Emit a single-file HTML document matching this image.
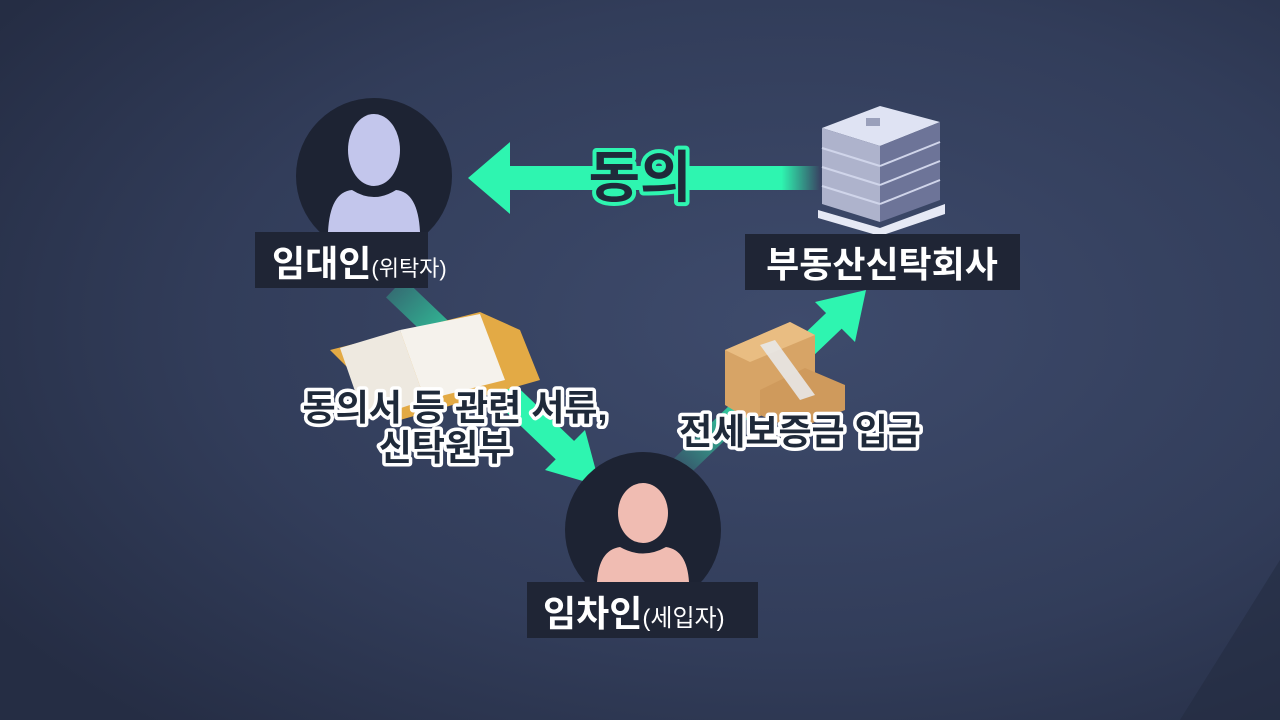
<!DOCTYPE html>
<html><head><meta charset="utf-8"><style>
html,body{margin:0;padding:0;width:1280px;height:720px;overflow:hidden;background:#2f3a56}
svg{display:block}
text{font-family:"Liberation Sans","Noto Sans CJK KR",sans-serif;font-weight:bold}
</style></head><body>
<svg width="1280" height="720" viewBox="0 0 1280 720" xmlns="http://www.w3.org/2000/svg">
<defs>
<radialGradient id="bg" cx="0.62" cy="0.45" r="0.75">
<stop offset="0" stop-color="#3e4b6c"/><stop offset="0.6" stop-color="#323d5a"/><stop offset="1" stop-color="#252d44"/>
</radialGradient>
<linearGradient id="ga" x1="1" y1="0" x2="0" y2="0"><stop offset="0" stop-color="#2ef5b0" stop-opacity="0"/><stop offset="0.12" stop-color="#2ef5b0"/><stop offset="1" stop-color="#2ef5b0"/></linearGradient>
<linearGradient id="gd" x1="0" y1="0" x2="1" y2="1"><stop offset="0" stop-color="#2ef5b0" stop-opacity="0.25"/><stop offset="0.5" stop-color="#2ef5b0"/><stop offset="1" stop-color="#2ef5b0"/></linearGradient>
<linearGradient id="gu" x1="0" y1="1" x2="1" y2="0"><stop offset="0" stop-color="#2ef5b0" stop-opacity="0.1"/><stop offset="0.5" stop-color="#2ef5b0"/><stop offset="1" stop-color="#2ef5b0"/></linearGradient>
</defs>
<rect width="1280" height="720" fill="url(#bg)"/>
<polygon points="1180,720 1280,560 1280,720" fill="#222a3e" opacity="0.5"/>

<!-- top arrow -->
<rect x="500" y="166" width="320" height="24" fill="url(#ga)"/>
<polygon points="468,178 510,142 510,214" fill="#2ef5b0"/>
<text x="640" y="197" font-size="56" font-weight="900" text-anchor="middle" fill="none" stroke="#2ef5b0" stroke-width="8" stroke-linejoin="round">동의</text>
<text x="640" y="197" font-size="56" font-weight="900" text-anchor="middle" fill="#1f2a3a">동의</text>

<!-- diagonal down arrow -->
<line x1="395" y1="288" x2="570" y2="455" stroke="url(#gd)" stroke-width="26"/>
<polygon points="600,486 545,470 585,430" fill="#2ef5b0"/>
<!-- up arrow -->
<line x1="680" y1="468" x2="840" y2="315" stroke="url(#gu)" stroke-width="22"/>
<polygon points="866,290 855,342 815,302" fill="#2ef5b0"/>

<!-- circles -->
<circle cx="374" cy="176" r="78" fill="#1d2333"/>
<ellipse cx="374" cy="150" rx="26" ry="36" fill="#c3c6ec"/>
<path d="M328,232 Q330,192 352,190 Q374,204 396,190 Q418,192 420,232 Z" fill="#c3c6ec"/>
<circle cx="643" cy="530" r="78" fill="#1d2333"/>
<ellipse cx="643" cy="513" rx="25" ry="30" fill="#f0bcb2"/>
<path d="M597,582 Q599,550 620,547 Q643,560 666,547 Q687,550 689,582 Z" fill="#f0bcb2"/>

<!-- building -->
<g>
<polygon points="822,128 880,106 940,122 880,146" fill="#dfe3f3"/>
<polygon points="822,128 880,146 880,222 822,204" fill="#aeb3cc"/>
<polygon points="880,146 940,122 940,200 880,222" fill="#6d7498"/>
<g stroke="#d0d5ea" stroke-width="2">
<line x1="822" y1="148" x2="880" y2="166"/><line x1="822" y1="167" x2="880" y2="185"/><line x1="822" y1="186" x2="880" y2="204"/>
<line x1="880" y1="166" x2="940" y2="142"/><line x1="880" y1="185" x2="940" y2="161"/><line x1="880" y1="204" x2="940" y2="180"/>
</g>
<polygon points="818,210 880,228 945,204 945,214 880,236 818,218" fill="#e6e9f5"/>
<rect x="866" y="118" width="14" height="8" fill="#9aa0bb"/>
</g>

<!-- documents -->
<polygon points="330,350 480,312 520,330 540,380 400,420" fill="#e3aa45"/>
<polygon points="340,348 400,330 425,400 365,420" fill="#eee9e0"/>
<polygon points="400,330 480,314 505,380 425,400" fill="#f5f2ec"/>

<!-- money -->
<g>
<polygon points="725,350 790,322 815,335 815,395 750,420 725,405" fill="#d7a466"/>
<polygon points="760,390 805,368 845,385 845,410 795,430 760,415" fill="#cf9a5c"/>
<polygon points="725,350 790,322 815,335 750,362" fill="#e9bd82"/>
<polygon points="760,345 775,340 815,395 800,400" fill="#e8e8e8" opacity="0.9"/>
</g>

<!-- label boxes -->
<rect x="255" y="232" width="173" height="56" fill="#1f2535"/>
<text x="272" y="276" font-size="36" fill="#fff">임대인<tspan font-size="22" font-weight="normal">(위탁자)</tspan></text>
<rect x="745" y="234" width="275" height="56" fill="#1f2535"/>
<text x="882" y="277" font-size="36" fill="#fff" text-anchor="middle">부동산신탁회사</text>
<rect x="527" y="582" width="231" height="56" fill="#1f2535"/>
<text x="543" y="626" font-size="36" fill="#fff">임차인<tspan font-size="24" font-weight="normal">(세입자)</tspan></text>

<!-- outlined labels -->
<g font-size="36" font-weight="900" text-anchor="middle">
<g fill="none" stroke="#fff" stroke-width="7" stroke-linejoin="round">
<text x="455" y="420">동의서 등 관련 서류,</text>
<text x="445" y="460">신탁원부</text>
<text x="800" y="444">전세보증금 입금</text>
</g>
<g fill="#1f2a3a">
<text x="455" y="420">동의서 등 관련 서류,</text>
<text x="445" y="460">신탁원부</text>
<text x="800" y="444">전세보증금 입금</text>
</g>
</g>
</svg>
</body></html>
